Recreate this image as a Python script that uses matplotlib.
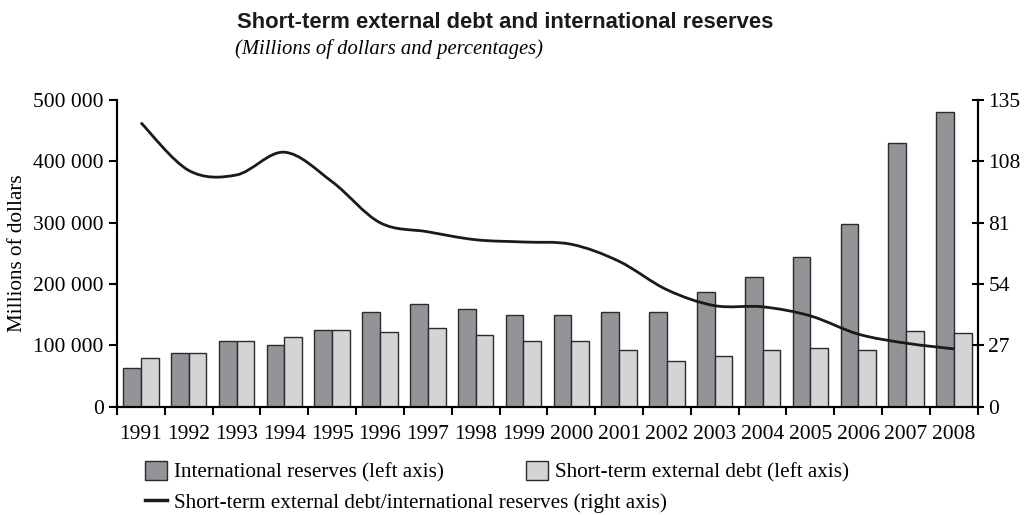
import numpy as np
import matplotlib
matplotlib.use("Agg")
import matplotlib.pyplot as plt
from matplotlib.path import Path
from matplotlib.patches import PathPatch, Patch
from matplotlib.lines import Line2D
from matplotlib.ticker import FuncFormatter

years = [str(y) for y in range(1991, 2009)]
reserves = [63000, 88000, 108000, 100000, 126000, 155000, 167000, 159000, 150000,
            150000, 154000, 154000, 187000, 212000, 244000, 298000, 430000, 480000]
st_debt = [80000, 88000, 108000, 113000, 126000, 122000, 129000, 117000, 108000,
           108000, 92000, 75000, 83000, 92000, 96000, 92000, 124000, 121000]
ratio = [125, 104, 102, 112, 99, 81, 77, 73.5, 72.5, 71.5, 64, 51.5, 44.5, 44, 40, 32, 28, 25.5]

SERIF = "Liberation Serif"
SANS = "Liberation Sans"
plt.rcParams["font.family"] = SERIF

fig = plt.figure(figsize=(10.26, 5.15), dpi=100)
ax = fig.add_axes([0.114, 0.21, 0.839, 0.596])
ax2 = ax.twinx()

x = np.arange(len(years))
w = 0.37
ax.bar(x - w / 2, reserves, w, color="#939498", edgecolor="#2b2b2b", linewidth=1.0, zorder=2)
ax.bar(x + w / 2, st_debt, w, color="#d3d4d6", edgecolor="#2b2b2b", linewidth=1.0, zorder=2)

ax.set_xlim(-0.5, len(years) - 0.5)
ax.set_ylim(0, 500000)
ax.set_yticks(range(0, 500001, 100000))
ax.yaxis.set_major_formatter(FuncFormatter(lambda v, p: f"{int(v):,}".replace(",", " ")))
ax.set_xticks(x)
ax.set_xticklabels(years)
ax.set_xticks(np.arange(-0.5, len(years), 1.0), minor=True)
ax.tick_params(axis="x", which="major", length=0, labelsize=15.5, pad=13)
ax.tick_params(axis="x", which="minor", length=6, width=1.5, direction="out")
ax.tick_params(axis="y", labelsize=15.5, length=6, width=1.5, direction="out")
ax.set_ylabel("Millions of dollars", fontsize=15.2)
ax.yaxis.set_label_coords(-0.105, 0.5)

ax2.set_ylim(0, 135)
ax2.set_yticks(range(0, 136, 27))
ax2.tick_params(axis="y", labelsize=15.5, length=8, width=1.5, direction="inout")

for a in (ax, ax2):
    a.spines["top"].set_visible(False)
    for s in ("left", "right", "bottom"):
        a.spines[s].set_linewidth(1.5)

# smoothed ratio line (Catmull-Rom through the data points)
pts = np.column_stack([x, ratio]).astype(float)
ext = np.vstack([pts[0], pts, pts[-1]])
verts = [tuple(pts[0])]
codes = [Path.MOVETO]
for i in range(len(pts) - 1):
    p0, p1, p2, p3 = ext[i], ext[i + 1], ext[i + 2], ext[i + 3]
    c1 = p1 + (p2 - p0) / 6
    c2 = p2 - (p3 - p1) / 6
    verts += [tuple(c1), tuple(c2), tuple(p2)]
    codes += [Path.CURVE4] * 3
ax2.add_patch(PathPatch(Path(verts, codes), fill=False, edgecolor="#1a1a1a", linewidth=2.0, zorder=3))

fig.text(0.231, 0.957, "Short-term external debt and international reserves",
         fontsize=15.8, fontweight="bold", family=SANS, va="center", color="#1a1a1a")
fig.text(0.229, 0.905, "(Millions of dollars and percentages)",
         fontsize=14.9, style="italic", family=SERIF, va="center")

h1 = Patch(facecolor="#939498", edgecolor="#2b2b2b")
h2 = Patch(facecolor="#d3d4d6", edgecolor="#2b2b2b")
h3 = Line2D([], [], color="#1a1a1a", linewidth=2.5)
fig.legend([h1, h2], ["International reserves (left axis)", "Short-term external debt (left axis)"],
           loc="center left", bbox_to_anchor=(0.141, 0.084), ncol=2, frameon=False,
           fontsize=15.2, handlelength=1.04, handleheight=1.0, handletextpad=0.33,
           columnspacing=3.9, borderaxespad=0, borderpad=0)
fig.legend([h3], ["Short-term external debt/international reserves (right axis)"],
           loc="center left", bbox_to_anchor=(0.141, 0.024), frameon=False,
           fontsize=15.2, handlelength=1.04, handletextpad=0.33, borderaxespad=0, borderpad=0)

fig.savefig("out.png", dpi=100)
